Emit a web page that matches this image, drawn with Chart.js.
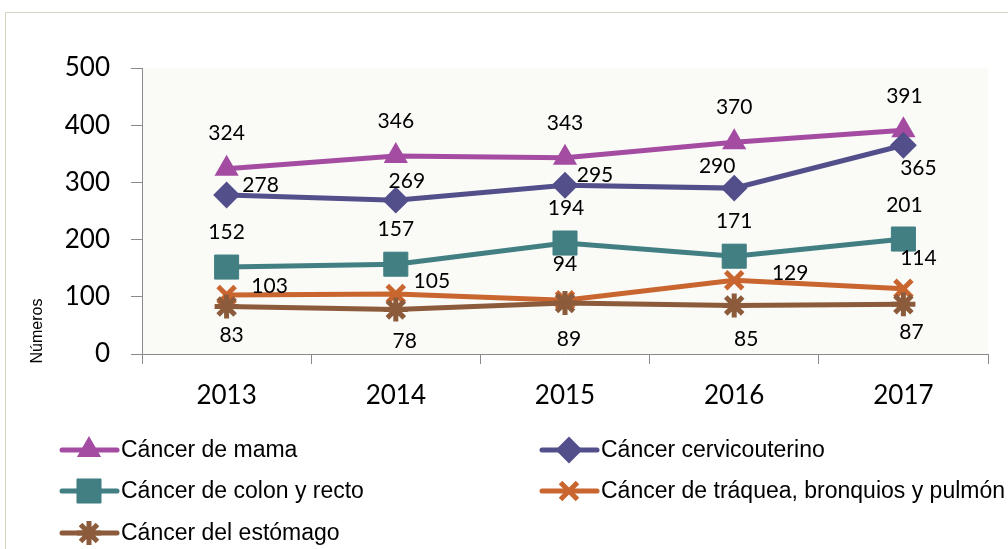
<!DOCTYPE html>
<html>
<head>
<meta charset="utf-8">
<script src="https://cdn.jsdelivr.net/npm/chart.js@4"></script>
<style>
    html, body { margin: 0; padding: 0; background: #ffffff; overflow: hidden; }
    #frame {
        position: absolute; left: 5px; top: 12px; width: 1020px; height: 560px;
        border: 1px solid #d8d4bd; box-sizing: border-box;
    }
    #wrap { position: absolute; left: 0; top: 0; width: 1008px; height: 549px; }
</style>
</head>
<body>
<div id="frame"></div>
<div id="wrap"><canvas id="chart" width="1008" height="549"></canvas></div>
<script>
// data
const years = ["2013", "2014", "2015", "2016", "2017"];
const mama = [324, 346, 343, 370, 391];
const cervicouterino = [278, 269, 295, 290, 365];
const colonRecto = [152, 157, 194, 171, 201];
const traquea = [103, 105, 94, 129, 114];
const estomago = [83, 78, 89, 85, 87];
const yMin = 0, yMax = 500, yStep = 100;

const seriesNames = [
    "Cáncer de mama",
    "Cáncer cervicouterino",
    "Cáncer de colon y recto",
    "Cáncer de tráquea, bronquios y pulmón",
    "Cáncer del estómago"
];

/* ==========================
   STYLES
========================== */
const colors = ["#a44ca2", "#524f8b", "#417f83", "#c9652f", "#8b5b3b"];
const pointStyles = ["triangle", "rectRot", "rect", "crossRot", "star"];
const pointRadius = [12, 12, 17, 12, 12];
const pointBorder = [2, 2, 1, 5, 5];

// where each value label sits relative to its point (dx, dy of text centre)
const labelOffsets = [
    [[0, -36], [0, -36], [0, -35], [0, -36], [1, -35]],
    [[34, -10], [11, -20], [30, -11], [-17, -23], [15, 22]],
    [[0, -36], [0, -36], [1, -36], [0, -36], [1, -35]],
    [[43, -10], [36, -13], [0, -37], [56, -8], [15, -31]],
    [[5, 28], [9, 31], [4, 35], [12, 33], [8, 27]]
];

const legendSlots = [
    { x: 62, y: 450 }, { x: 542, y: 450 },
    { x: 62, y: 491 }, { x: 542, y: 491 },
    { x: 62, y: 533 }
];

const numFont = "Lato, 'Open Sans', sans-serif";
const axisGray = "#8a8a8a";

const allValues = [mama, cervicouterino, colonRecto, traquea, estomago];

const datasets = allValues.map((vals, i) => ({
    label: seriesNames[i],
    data: vals,
    borderColor: colors[i],
    backgroundColor: colors[i],
    borderWidth: 5,
    pointStyle: pointStyles[i],
    pointRadius: pointRadius[i],
    pointHoverRadius: pointRadius[i],
    pointBorderWidth: pointBorder[i],
    pointBackgroundColor: colors[i],
    pointBorderColor: colors[i],
    tension: 0,
    order: 5 - i
}));

/* ==========================
   PLUGINS
========================== */
const plotBackground = {
    id: "plotBackground",
    beforeDraw(chart) {
        const { ctx, chartArea: a } = chart;
        ctx.save();
        ctx.fillStyle = "#fafaf6";
        ctx.fillRect(a.left, a.top, a.right - a.left, a.bottom - a.top);
        ctx.restore();
    }
};

const valueLabels = {
    id: "valueLabels",
    afterDatasetsDraw(chart) {
        const ctx = chart.ctx;
        ctx.save();
        ctx.font = "21px " + numFont;
        ctx.fillStyle = "#000";
        ctx.textAlign = "center";
        ctx.textBaseline = "alphabetic";
        chart.data.datasets.forEach((ds, i) => {
            const meta = chart.getDatasetMeta(i);
            meta.data.forEach((pt, j) => {
                const off = labelOffsets[i][j];
                ctx.fillText(String(ds.data[j]), pt.x + off[0], pt.y + off[1] + 7.5);
            });
        });
        ctx.restore();
    }
};

const sideLegend = {
    id: "sideLegend",
    afterDraw(chart) {
        const ctx = chart.ctx;
        ctx.save();
        chart.data.datasets.forEach((ds, i) => {
            const s = legendSlots[i];
            ctx.strokeStyle = colors[i];
            ctx.fillStyle = colors[i];
            ctx.lineWidth = 5;
            ctx.lineCap = "round";
            ctx.beginPath();
            ctx.moveTo(s.x, s.y);
            ctx.lineTo(s.x + 55, s.y);
            ctx.stroke();
            ctx.lineCap = "butt";
            ctx.lineWidth = pointBorder[i];
            Chart.helpers.drawPoint(ctx, {
                pointStyle: pointStyles[i],
                radius: pointRadius[i],
                rotation: 0,
                borderWidth: pointBorder[i]
            }, s.x + 27, s.y);
            ctx.fillStyle = "#000";
            ctx.font = "23px 'Liberation Sans', Arial, sans-serif";
            ctx.textAlign = "left";
            ctx.textBaseline = "middle";
            ctx.fillText(ds.label, s.x + 59, s.y + 1);
        });

        // y axis title
        ctx.translate(38, 331);
        ctx.rotate(-Math.PI / 2);
        ctx.font = "16px 'Liberation Sans', Arial, sans-serif";
        ctx.fillStyle = "#000";
        ctx.textAlign = "center";
        ctx.textBaseline = "middle";
        ctx.fillText("Números", 0, 0);
        ctx.restore();
    }
};

/* ==========================
   CHART
========================== */
new Chart(document.getElementById("chart").getContext("2d"), {
    type: "line",
    data: { labels: years, datasets },
    options: {
        responsive: false,
        animation: false,
        layout: { padding: { top: 68, right: 20, bottom: 125, left: 0 } },
        plugins: {
            legend: { display: false },
            tooltip: { enabled: false }
        },
        scales: {
            x: {
                offset: true,
                afterFit: s => { s.height = 70; },
                grid: {
                    offset: true,
                    drawOnChartArea: false,
                    drawTicks: true,
                    tickLength: 10,
                    color: axisGray
                },
                border: { display: true, color: axisGray, width: 1 },
                ticks: {
                    color: "#000",
                    padding: 16,
                    font: { family: numFont, size: 26 }
                }
            },
            y: {
                min: yMin,
                max: yMax,
                afterFit: s => { s.width = 142; },
                grid: {
                    drawOnChartArea: false,
                    drawTicks: true,
                    tickLength: 11,
                    color: axisGray
                },
                border: { display: true, color: axisGray, width: 1 },
                ticks: {
                    stepSize: yStep,
                    color: "#000",
                    padding: 21,
                    font: { family: numFont, size: 26 }
                }
            }
        }
    },
    plugins: [plotBackground, valueLabels, sideLegend]
});
</script>
</body>
</html>
